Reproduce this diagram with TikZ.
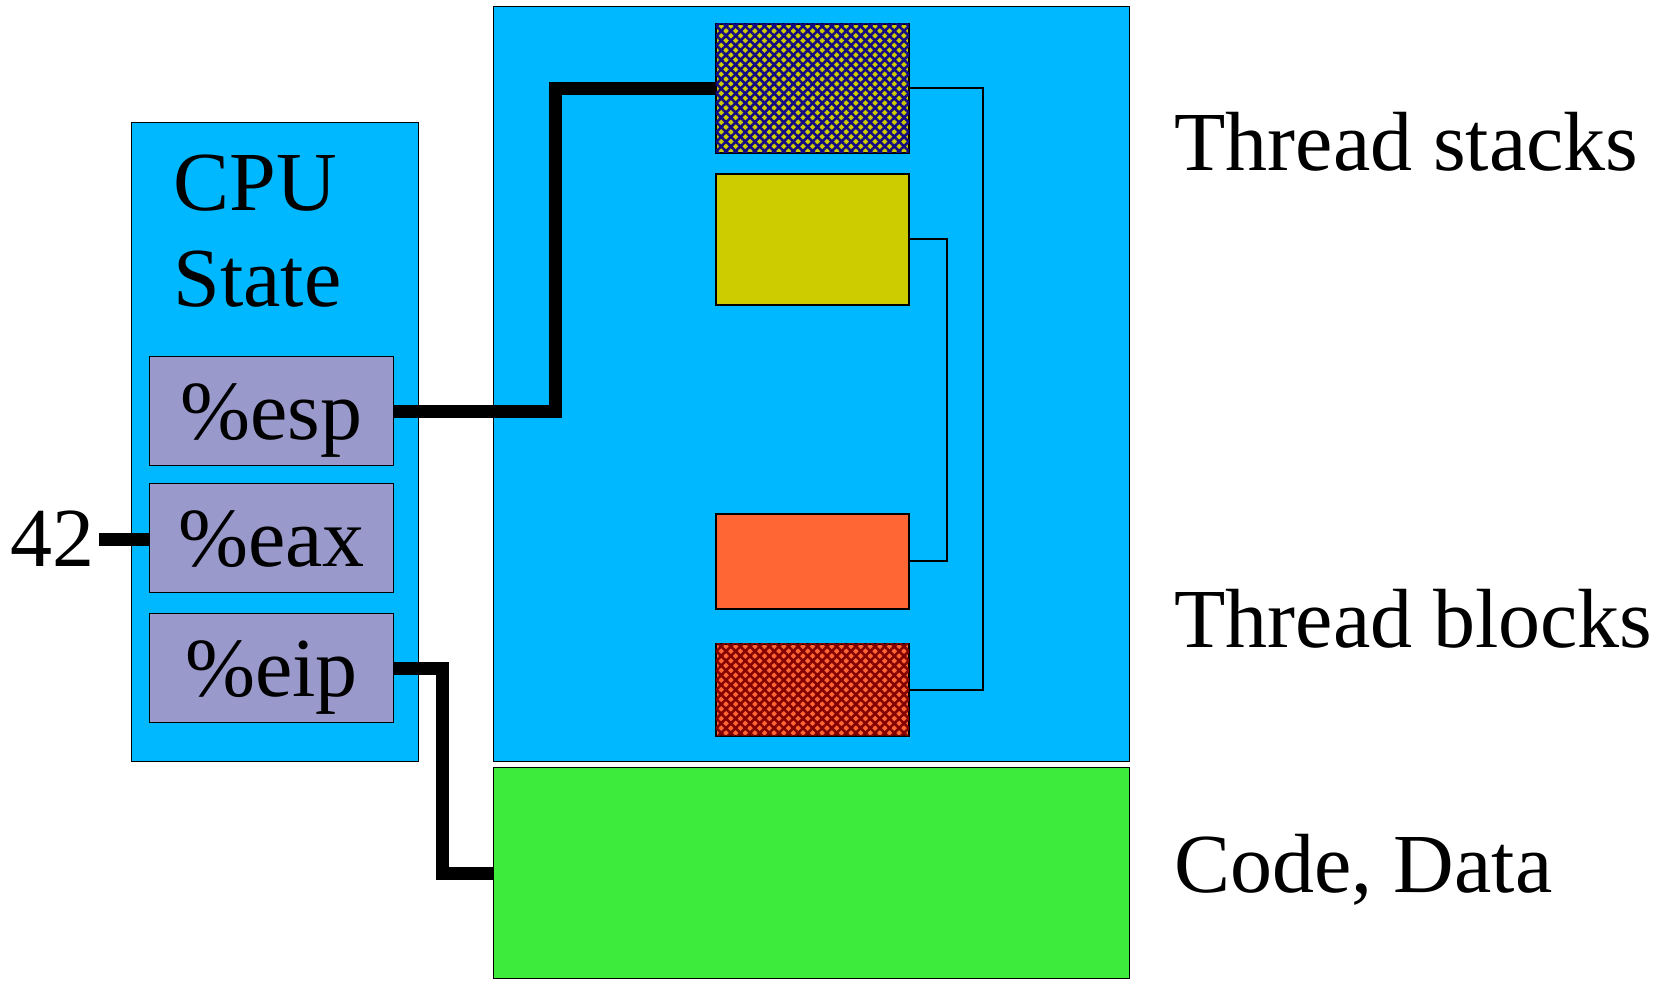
\documentclass[tikz,border=0pt]{standalone}
\usepackage{fontspec}
\setmainfont{Liberation Serif}
\definecolor{memblue}{RGB}{0, 184, 255}
\definecolor{regviolet}{RGB}{153, 153, 204}
\definecolor{stackyellow}{RGB}{204, 204, 0}
\definecolor{blockorange}{RGB}{255, 102, 51}
\definecolor{codegreen}{RGB}{60, 235, 60}
\definecolor{hatchnavy}{RGB}{20, 10, 130}
\definecolor{hatchred}{RGB}{130, 0, 0}
\usetikzlibrary{patterns.meta}

\begin{document}
\begin{tikzpicture}[
  x=0.5pt, y=-0.5pt,
  every node/.style={font=\fontsize{42}{48}\selectfont},
  area/.style={draw, line width=0.6pt, anchor=north west, inner sep=0pt},
  reg/.style={area, fill=regviolet, minimum width=122pt, minimum height=54.5pt, text depth=0pt},
  slot/.style={area, line width=0.8pt, minimum width=96.5pt},
  hatched/.style={postaction={pattern={Lines[angle=45, distance=3.4pt, line width=1.3pt]}, pattern color=#1},
                  postaction={pattern={Lines[angle=-45, distance=3.4pt, line width=1.3pt]}, pattern color=#1}},
  sidetext/.style={anchor=base west, inner sep=0pt},
  wire/.style={line width=6.5pt},
  link/.style={line width=1pt}
]
  \useasboundingbox (0,0) rectangle (1666,983);
  \node[area, fill=memblue, minimum width=143.5pt, minimum height=319.5pt] (cpu) at (131,122) {};
  \node[area, fill=memblue, minimum width=318pt, minimum height=377.5pt] (mem) at (493,6) {};
  \node[area, fill=codegreen, minimum width=318pt, minimum height=105.5pt] (code) at (493,767) {};
  \node[anchor=north west, inner sep=0pt, align=left] (cpulabel) at (173,154) {CPU\\State};
  \node[reg] (esp) at (149,356) {\%esp};
  \node[reg] (eax) at (149,483) {\%eax};
  \node[reg] (eip) at (149,613) {\%eip};
  \node[slot, minimum height=64.5pt, fill=stackyellow, hatched=hatchnavy] (stack1) at (715,23) {};
  \node[slot, minimum height=65.5pt, fill=stackyellow] (stack2) at (715,173) {};
  \node[slot, minimum height=47.5pt, fill=blockorange] (block1) at (715,513) {};
  \node[slot, minimum height=46pt, fill=blockorange, hatched=hatchred] (block2) at (715,643) {};
  \node[sidetext] (stacks) at (1174,171) {Thread stacks};
  \node[sidetext] (blocks) at (1174,648) {Thread blocks};
  \node[sidetext] (codedata) at (1174,892) {Code, Data};
  \node[sidetext] (n42) at (10,567) {42};
  \draw[link] (stack1.east) -- ++(73,0) |- (block2.east);
  \draw[link] (stack2.east) -- ++(37,0) |- (block1.east);
  \draw[wire] (esp.east) -- ++(161,0) |- (stack1.west);
  \draw[wire] (eip.east) -- ++(48,0) |- (code.west);
  \draw[wire] ([xshift=2pt]n42.east) -- (n42.east -| eax.west);
\end{tikzpicture}
\end{document}
